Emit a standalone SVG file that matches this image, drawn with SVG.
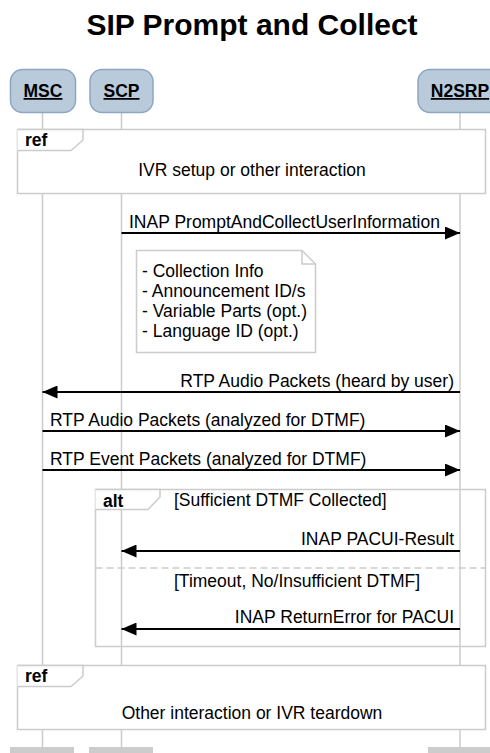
<svg xmlns="http://www.w3.org/2000/svg" width="490" height="753" viewBox="0 0 490 753">
<defs>
<style>
text{font-family:"Liberation Sans",Arial,sans-serif;fill:#000}
.title{font-size:30px;font-weight:bold}
.lbl{font-size:17.5px}
.part{font-size:17.5px;font-weight:bold;text-decoration:underline}
.kw{font-size:17.5px;font-weight:bold}
.head{fill:#b9cbdb;stroke:#8ea5c4;stroke-width:1.5}
.life{stroke:#cccccc;stroke-width:1.5;fill:none}
.frame{fill:#fff;stroke:#cccccc;stroke-width:1.5}
.msg{stroke:#000;stroke-width:1.8;fill:none}
.foot{fill:#cccccc}
</style>
<marker id="ah" viewBox="0 0 15 13" refX="15" refY="6.5" markerWidth="15" markerHeight="13" markerUnits="userSpaceOnUse" orient="auto">
<path d="M0,0 L15,6.5 L0,13 Z" fill="#000"/>
</marker>
</defs>
<rect width="490" height="753" fill="#fff"/>
<text class="title" x="252" y="35" text-anchor="middle">SIP Prompt and Collect</text>

<g id="lifelines">
<line class="life" x1="42.5" y1="112" x2="42.5" y2="747"/>
<line class="life" x1="121.5" y1="112" x2="121.5" y2="747"/>
<line class="life" x1="460" y1="112" x2="460" y2="747"/>
</g>

<g id="MSC">
<rect class="head" x="10.5" y="69.5" width="65" height="43" rx="12"/>
<text class="part" x="43" y="97" text-anchor="middle">MSC</text>
<rect class="foot" x="10" y="747" width="64" height="6"/>
</g>
<g id="SCP">
<rect class="head" x="90" y="69.5" width="63" height="43" rx="12"/>
<text class="part" x="121.5" y="97" text-anchor="middle">SCP</text>
<rect class="foot" x="89" y="747" width="64" height="6"/>
</g>
<g id="N2SRP">
<rect class="head" x="418" y="69.5" width="84" height="43" rx="12"/>
<text class="part" x="460" y="97" text-anchor="middle">N2SRP</text>
<rect class="foot" x="428" y="747" width="64" height="6"/>
</g>

<g id="ref1">
<rect class="frame" x="17.5" y="129.5" width="468" height="64"/>
<path d="M17.5,129.5 H83 V140 L71,150.5 H17.5" fill="#fff" stroke="#cccccc" stroke-width="1.5"/>
<text class="kw" x="25" y="146">ref</text>
<text class="lbl" x="252" y="176" text-anchor="middle">IVR setup or other interaction</text>
</g>

<g id="note">
<path d="M136.5,250.5 H302 L315.5,264 V352.5 H136.5 Z" fill="#fff" stroke="#cccccc" stroke-width="1.5"/>
<path d="M302,250.5 V264 H315.5" fill="none" stroke="#cccccc" stroke-width="1.5"/>
<text class="lbl" x="142" y="277">- Collection Info</text>
<text class="lbl" x="142" y="297">- Announcement ID/s</text>
<text class="lbl" x="142" y="317">- Variable Parts (opt.)</text>
<text class="lbl" x="142" y="337">- Language ID (opt.)</text>
</g>

<g id="alt">
<rect x="95.5" y="489.5" width="390" height="157" fill="none" stroke="#cccccc" stroke-width="1.5"/>
<path d="M95.5,489.5 H160 V497 L148,509.5 H95.5" fill="#fff" stroke="#cccccc" stroke-width="1.5"/>
<text class="kw" x="103" y="507">alt</text>
<text class="lbl" x="174" y="506">[Sufficient DTMF Collected]</text>
<line x1="95.5" y1="568" x2="485.5" y2="568" stroke="#cccccc" stroke-width="1.5" stroke-dasharray="7,4"/>
<text class="lbl" x="174" y="587">[Timeout, No/Insufficient DTMF]</text>
</g>

<g id="ref2">
<rect class="frame" x="17.5" y="665.5" width="468" height="64"/>
<path d="M17.5,665.5 H83 V676 L71,686.5 H17.5" fill="#fff" stroke="#cccccc" stroke-width="1.5"/>
<text class="kw" x="25" y="682">ref</text>
<text class="lbl" x="252" y="719" text-anchor="middle">Other interaction or IVR teardown</text>
</g>

<g id="connectors">
<line class="msg" x1="121.5" y1="233" x2="460" y2="233" marker-end="url(#ah)"/>
<text class="lbl" x="129" y="228">INAP PromptAndCollectUserInformation</text>
<line class="msg" x1="460" y1="392" x2="42.5" y2="392" marker-end="url(#ah)"/>
<text class="lbl" x="454" y="387" text-anchor="end">RTP Audio Packets (heard by user)</text>
<line class="msg" x1="42.5" y1="431" x2="460" y2="431" marker-end="url(#ah)"/>
<text class="lbl" x="50" y="426">RTP Audio Packets (analyzed for DTMF)</text>
<line class="msg" x1="42.5" y1="470" x2="460" y2="470" marker-end="url(#ah)"/>
<text class="lbl" x="50" y="465">RTP Event Packets (analyzed for DTMF)</text>
<line class="msg" x1="460" y1="551" x2="121.5" y2="551" marker-end="url(#ah)"/>
<text class="lbl" x="454" y="545" text-anchor="end">INAP PACUI-Result</text>
<line class="msg" x1="460" y1="629" x2="121.5" y2="629" marker-end="url(#ah)"/>
<text class="lbl" x="454" y="623" text-anchor="end">INAP ReturnError for PACUI</text>
</g>
</svg>
